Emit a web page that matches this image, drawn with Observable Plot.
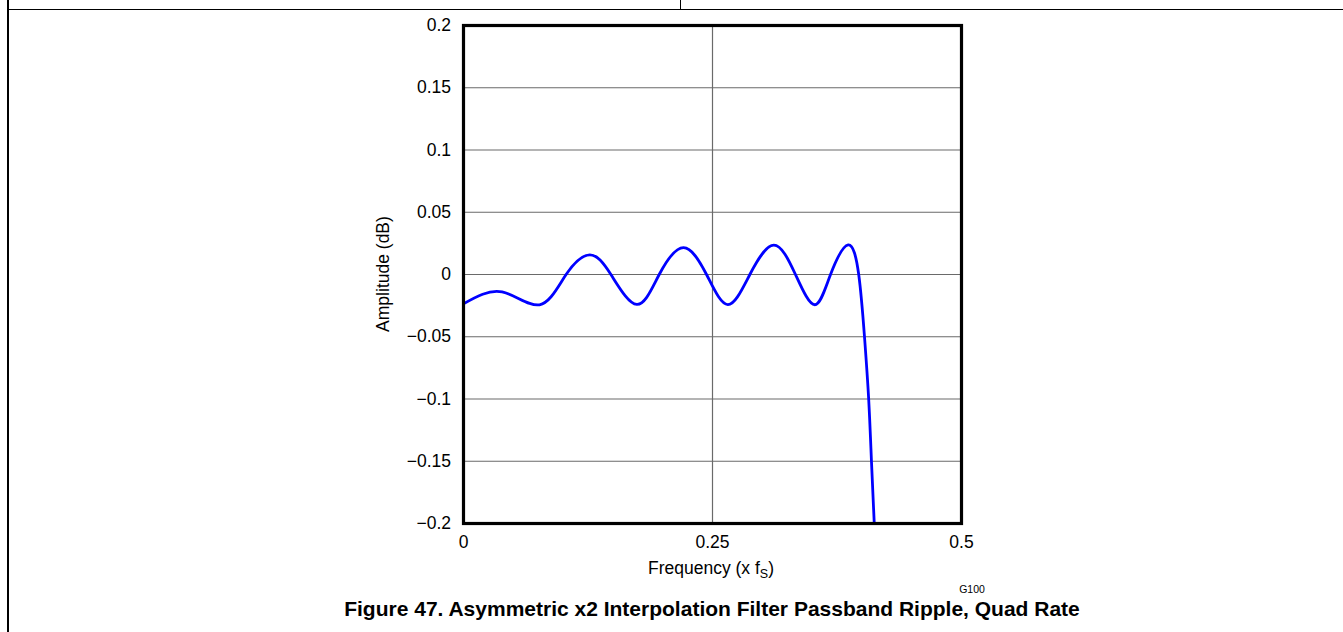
<!DOCTYPE html>
<html><head><meta charset="utf-8">
<script src="https://cdn.jsdelivr.net/npm/d3@7"></script>
<script src="https://cdn.jsdelivr.net/npm/@observablehq/plot@0.6"></script>
<style>
body{margin:0;background:#fff;}
#wrap{position:relative;width:1343px;height:632px;overflow:hidden;background:#fff;}
.ln{position:absolute;background:#000;z-index:2;}
svg{display:block;}
</style></head><body>
<div id="wrap">
<div class="ln" style="left:7px;top:0;width:1.5px;height:632px"></div>
<div class="ln" style="left:7px;top:8.5px;width:1336px;height:1.5px"></div>
<div class="ln" style="left:679.5px;top:0;width:1px;height:9px"></div>
</div>
<script>
// Data
const freq = [0, 0.0388, 0.0763, 0.103, 0.1268, 0.148, 0.174, 0.1965, 0.2209, 0.244, 0.2654, 0.2875, 0.3116, 0.3333, 0.3527, 0.3685, 0.3862, 0.3968, 0.4026, 0.4068, 0.4096, 0.4124];
const ampDb = [-0.0235, -0.0140, -0.0243, 0, 0.0158, 0, -0.0240, 0, 0.0216, 0, -0.0242, 0, 0.0236, 0, -0.0243, 0, 0.0238, 0, -0.05, -0.1, -0.15, -0.2];
const yTicks = [-0.2, -0.15, -0.1, -0.05, 0, 0.05, 0.1, 0.15, 0.2];
const xTicks = [0, 0.25, 0.5];
const xLabelMain = "Frequency (x f";
const xLabelSub = "S";
const yLabel = "Amplitude (dB)";
const figCode = "G100";
const caption = "Figure 47. Asymmetric x2 Interpolation Filter Passband Ripple, Quad Rate";

const FONT = "'Liberation Sans', Arial, Helvetica, sans-serif";
const data = freq.map((f, i) => ({f, a: ampDb[i]}));
const fmt = d3.format("~g");

const chart = Plot.plot({
  width: 1343, height: 632,
  marginLeft: 463, marginRight: 382, marginTop: 25, marginBottom: 109,
  style: {fontFamily: FONT, fontSize: "17.5px", background: "white", color: "black"},
  x: {domain: [0, 0.5]},
  y: {domain: [-0.2, 0.2]},
  marks: [
    Plot.gridY(yTicks, {stroke: "#6a6a6a", strokeOpacity: 1, strokeWidth: 1.2}),
    Plot.gridX(xTicks, {stroke: "#6a6a6a", strokeOpacity: 1, strokeWidth: 1.2}),
    Plot.line(data, {x: "f", y: "a", stroke: "#0000ff", strokeWidth: 2.8, curve: "natural", clip: true}),
    Plot.frame({stroke: "black", strokeWidth: 3.2}),
    Plot.axisY(yTicks, {tickSize: 0, tickPadding: 12.5, tickFormat: fmt, label: null, fontSize: 17.5}),
    Plot.axisX(xTicks, {tickSize: 0, tickPadding: 12, tickFormat: fmt, label: null, fontSize: 17.5})
  ]
});

const svg = d3.select(chart);
svg.selectAll("g[aria-label='y-axis tick label'], g[aria-label='x-axis tick label']")
  .attr("font-size", 17.5).style("font-size", "17.5px").style("fill", "black").attr("fill", "black");

const xl = svg.append("text")
  .attr("x", 711).attr("y", 574)
  .attr("text-anchor", "middle")
  .attr("font-family", FONT).attr("font-size", 17.5).attr("fill", "black");
xl.append("tspan").text(xLabelMain);
xl.append("tspan").attr("dy", 4).attr("font-size", 12.5).text(xLabelSub);
xl.append("tspan").attr("dy", -4).text(")");

svg.append("text")
  .attr("transform", "translate(389,274) rotate(-90)")
  .attr("text-anchor", "middle")
  .attr("font-family", FONT).attr("font-size", 17.5).attr("fill", "black")
  .text(yLabel);

svg.append("text")
  .attr("x", 972).attr("y", 593)
  .attr("text-anchor", "middle")
  .attr("font-family", FONT).attr("font-size", 10.5).attr("fill", "black")
  .text(figCode);

svg.append("text")
  .attr("x", 712).attr("y", 616)
  .attr("text-anchor", "middle")
  .attr("font-family", FONT).attr("font-size", 21).attr("font-weight", "bold").attr("fill", "black")
  .text(caption);

document.getElementById("wrap").appendChild(chart);
</script>
</body></html>
